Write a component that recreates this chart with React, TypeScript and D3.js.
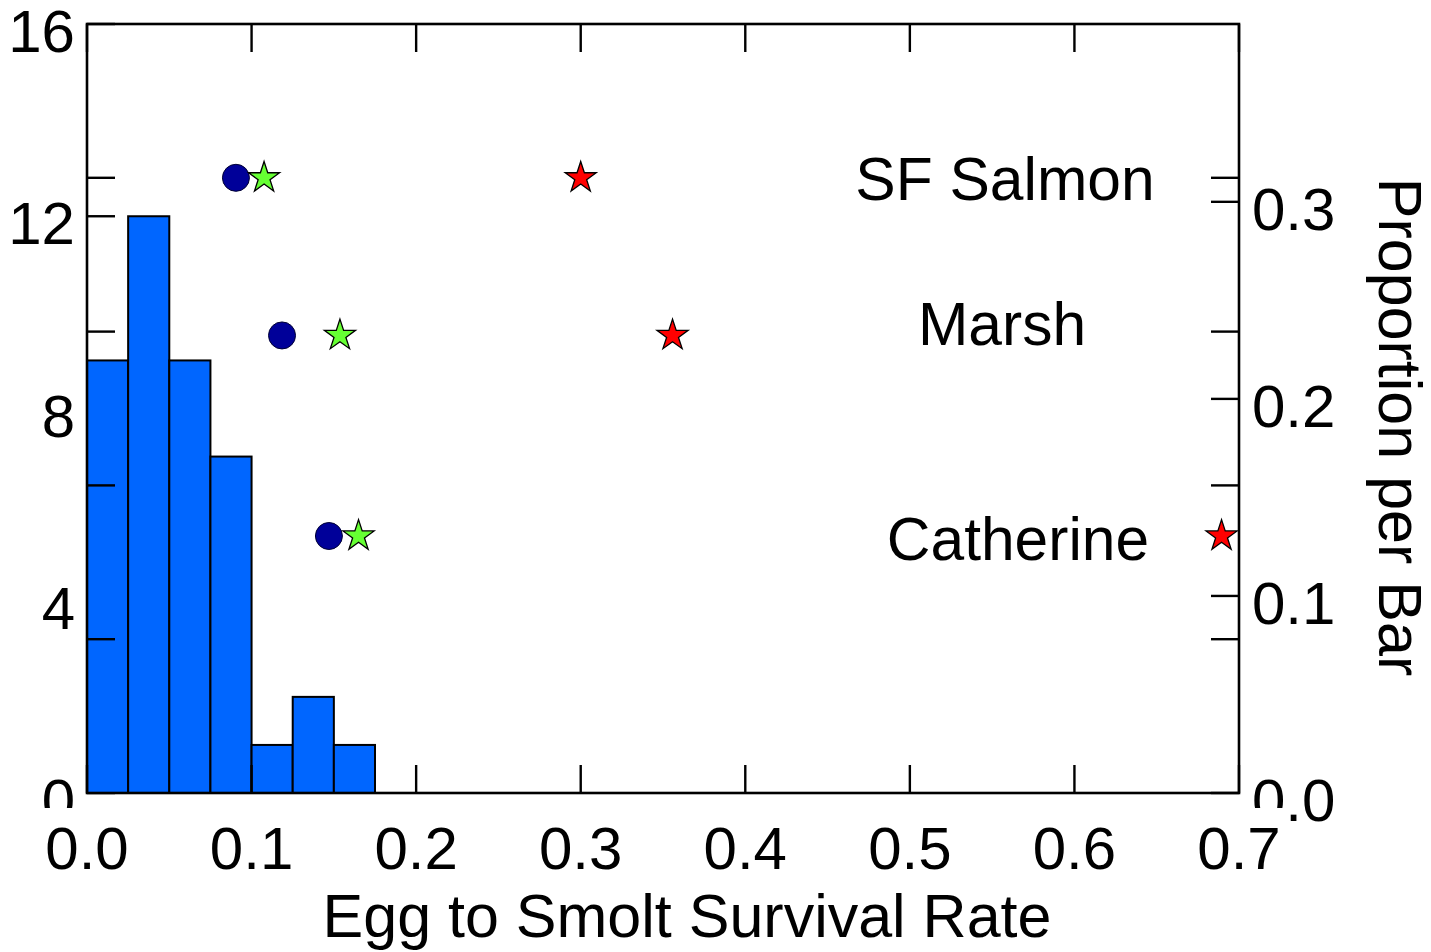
import React from "react";
import * as d3 from "d3";

// Histogram of egg-to-smolt survival (bin width 0.025)
const binStarts = [0.0, 0.025, 0.05, 0.075, 0.1, 0.125, 0.15];
const binWidth = 0.025;
const binCounts = [9, 12, 9, 7, 1, 2, 1];

// Axis ticks
const xTicks = [0.0, 0.1, 0.2, 0.3, 0.4, 0.5, 0.6, 0.7];
const countTicks = [0, 4, 8, 12, 16];
const propTicks = [0.0, 0.1, 0.2, 0.3];
const rowTicks = [1, 2, 3, 4];

// Stream estimates: row position (row scale 0..5) and survival values
const streams = ["SF Salmon", "Marsh", "Catherine"];
const streamRow = [4.0, 2.975, 1.671];
const circleValues = [0.0905, 0.1185, 0.147];
const greenStarValues = [0.1076, 0.1537, 0.165];
const redStarValues = [0.3, 0.3558, 0.6894];
const labelX = [1005, 1002, 1018];
const labelBaselineOffset = [22, 10, 24];

const W = 1431;
const H = 952;
const L = 87;
const R = 1239;
const T = 24;
const B = 793;
const FONT = "'Liberation Sans', Arial, sans-serif";

export default function App() {
  const x = d3.scaleLinear().domain([0, 0.7]).range([L, R]);
  const total = d3.sum(binCounts);
  const yCount = d3.scaleLinear().domain([0, 16]).range([B, T]);
  const yProp = d3.scaleLinear().domain([0, 16 / total]).range([B, T]);
  const yRow = d3.scaleLinear().domain([0, 5]).range([B, T]);

  const starPath = d3.symbol().type(d3.symbolStar).size(300)() as string;
  const tickLen = 28;
  const fmt = d3.format(".1f");

  return (
    <svg
      width={W}
      height={H}
      style={{ position: "absolute", left: 0, top: 0, background: "#fff" }}
      fontFamily={FONT}
    >
      {/* count axis ticks (behind bars) */}
      {countTicks.map((t) => (
        <line key={"ct" + t} x1={L} x2={L + tickLen} y1={yCount(t)} y2={yCount(t)} stroke="#000" strokeWidth={2.4} />
      ))}

      {/* histogram bars */}
      {binCounts.map((c, i) => (
        <rect
          key={"b" + i}
          x={x(binStarts[i])}
          y={yCount(c)}
          width={x(binStarts[i] + binWidth) - x(binStarts[i])}
          height={yCount(0) - yCount(c)}
          fill="#0066ff"
          stroke="#000"
          strokeWidth={2}
        />
      ))}

      {/* row ticks on both sides */}
      {rowTicks.map((t) => (
        <g key={"rt" + t}>
          <line x1={L} x2={L + tickLen} y1={yRow(t)} y2={yRow(t)} stroke="#000" strokeWidth={2.4} />
          <line x1={R - tickLen} x2={R} y1={yRow(t)} y2={yRow(t)} stroke="#000" strokeWidth={2.4} />
        </g>
      ))}

      {/* proportion ticks on right */}
      {propTicks.map((t) => (
        <line key={"pt" + t} x1={R - tickLen} x2={R} y1={yProp(t)} y2={yProp(t)} stroke="#000" strokeWidth={2.4} />
      ))}

      {/* x ticks top and bottom */}
      {xTicks.map((t) => (
        <g key={"xt" + t}>
          <line x1={x(t)} x2={x(t)} y1={T} y2={T + tickLen} stroke="#000" strokeWidth={2.4} />
          <line x1={x(t)} x2={x(t)} y1={B} y2={B - tickLen} stroke="#000" strokeWidth={2.4} />
        </g>
      ))}

      {/* frame */}
      <rect x={L} y={T} width={R - L} height={B - T} fill="none" stroke="#000" strokeWidth={2.6} />

      {/* stream points */}
      {streams.map((s, i) => (
        <g key={"s" + s}>
          <circle cx={x(circleValues[i])} cy={yRow(streamRow[i])} r={13.5} fill="#000099" stroke="#000033" strokeWidth={1} />
          <path
            d={starPath}
            transform={`translate(${x(greenStarValues[i])},${yRow(streamRow[i])})`}
            fill="#66ff33"
            stroke="#000"
            strokeWidth={1.3}
          />
          <path
            d={starPath}
            transform={`translate(${x(redStarValues[i])},${yRow(streamRow[i])})`}
            fill="#ff0000"
            stroke="#000"
            strokeWidth={1.3}
          />
          <text
            x={labelX[i]}
            y={yRow(streamRow[i]) + labelBaselineOffset[i]}
            textAnchor="middle"
            fontSize={60.5}
            fill="#000"
          >
            {s}
          </text>
        </g>
      ))}

      {/* left count labels */}
      {countTicks.map((t) => (
        <text key={"cl" + t} x={75} y={yCount(t) + 28} textAnchor="end" fontSize={60} fill="#000">
          {t}
        </text>
      ))}

      {/* right proportion labels */}
      {propTicks.map((t) => (
        <text key={"pl" + t} x={1252} y={yProp(t) + 28} textAnchor="start" fontSize={60} fill="#000">
          {fmt(t)}
        </text>
      ))}

      {/* x labels with opaque boxes */}
      {xTicks.map((t) => (
        <g key={"xl" + t}>
          <rect x={x(t) - 46} y={808} width={92} height={68} fill="#fff" />
          <text x={x(t)} y={869} textAnchor="middle" fontSize={60} fill="#000">
            {fmt(t)}
          </text>
        </g>
      ))}

      {/* axis titles */}
      <text x={687} y={937} textAnchor="middle" fontSize={61} fill="#000">
        Egg to Smolt Survival Rate
      </text>
      <text transform="translate(1379,427) rotate(90)" textAnchor="middle" fontSize={61} fill="#000">
        Proportion per Bar
      </text>
    </svg>
  );
}
